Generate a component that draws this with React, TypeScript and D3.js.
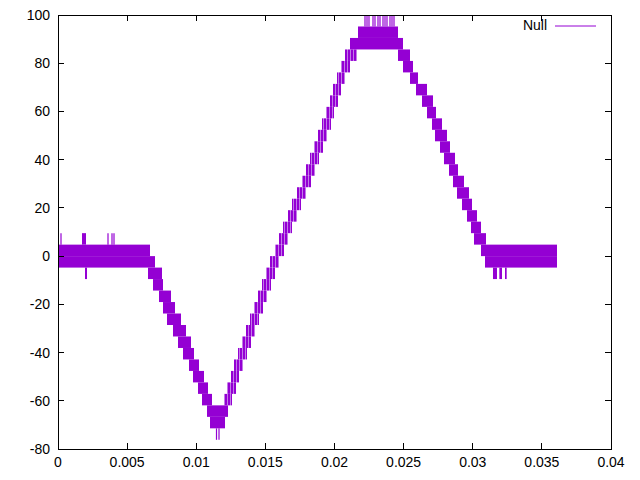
import React from "react";
import * as d3 from "d3";

const W = 640;
const H = 480;
const PLOT = { left: 58, right: 611, top: 15, bottom: 449 };

const xTicks = [0, 0.005, 0.01, 0.015, 0.02, 0.025, 0.03, 0.035, 0.04];
const xTickLabels = ["0", "0.005", "0.01", "0.015", "0.02", "0.025", "0.03", "0.035", "0.04"];
const yTicks = [-80, -60, -40, -20, 0, 20, 40, 60, 80, 100];
const yTickLabels = ["-80", "-60", "-40", "-20", "0", "20", "40", "60", "80", "100"];
const seriesName = "Null";

// Dense dithered signal, read as bands: [tStart, tEnd, low, high]
const flatStartBlocks = [
  [0, 0.006655, 0, 4.76],
  [0, 0.007016, -4.76, 0],
  [0.001736, 0.002025, 4.76, 9.52],
  [0.001953, 0.002098, -9.52, -4.76],
];
const fallBlocks = [
  [0.00651, 0.007523, -9.52, -4.76],
  [0.006872, 0.007595, -14.29, -9.52],
  [0.007306, 0.008174, -19.05, -14.29],
  [0.007595, 0.008463, -23.81, -19.05],
  [0.007884, 0.008897, -28.57, -23.81],
  [0.008318, 0.009259, -33.33, -28.57],
  [0.00868, 0.00962, -38.1, -33.33],
  [0.009042, 0.009837, -42.86, -38.1],
  [0.009476, 0.010199, -47.62, -42.86],
  [0.009765, 0.010561, -52.38, -47.62],
  [0.010127, 0.01085, -57.14, -52.38],
  [0.010416, 0.011139, -61.9, -57.14],
  [0.010778, 0.012297, -66.67, -61.9],
  [0.010995, 0.01208, -71.43, -66.67],
];
const riseBlocks = [
  [0.012007, 0.012586, -61.9, -57.14],
  [0.012224, 0.012876, -57.14, -52.38],
  [0.012514, 0.013092, -52.38, -47.62],
  [0.012731, 0.013382, -47.62, -42.86],
  [0.01302, 0.013671, -42.86, -38.1],
  [0.013309, 0.01396, -38.1, -33.33],
  [0.013599, 0.01425, -33.33, -28.57],
  [0.013888, 0.014539, -28.57, -23.81],
  [0.014177, 0.014828, -23.81, -19.05],
  [0.014467, 0.015118, -19.05, -14.29],
  [0.014756, 0.015407, -14.29, -9.52],
  [0.015045, 0.015696, -9.52, -4.76],
  [0.015335, 0.015986, -4.76, 0],
  [0.015696, 0.016347, 0, 4.76],
  [0.015986, 0.016637, 4.76, 9.52],
  [0.016275, 0.016926, 9.52, 14.29],
  [0.016637, 0.017288, 14.29, 19.05],
  [0.016926, 0.017577, 19.05, 23.81],
  [0.017288, 0.017939, 23.81, 28.57],
  [0.017649, 0.0183, 28.57, 33.33],
  [0.017939, 0.01859, 33.33, 38.1],
  [0.018228, 0.018879, 38.1, 42.86],
  [0.018517, 0.019168, 42.86, 47.62],
  [0.018807, 0.019458, 47.62, 52.38],
  [0.019096, 0.019747, 52.38, 57.14],
  [0.019385, 0.019964, 57.14, 61.9],
  [0.019675, 0.020253, 61.9, 66.67],
  [0.019892, 0.02047, 66.67, 71.43],
  [0.020181, 0.02076, 71.43, 76.19],
  [0.02047, 0.021121, 76.19, 80.95],
  [0.02076, 0.021627, 80.95, 85.71],
];
const peakBlocks = [
  [0.021121, 0.024955, 85.71, 90.48],
  [0.0217, 0.024593, 90.48, 95.24],
];
const fall2Blocks = [
  [0.024593, 0.025461, 80.95, 85.71],
  [0.024955, 0.025678, 76.19, 80.95],
  [0.025461, 0.02604, 71.43, 76.19],
  [0.025895, 0.026691, 66.67, 71.43],
  [0.026329, 0.027125, 61.9, 66.67],
  [0.026691, 0.027342, 57.14, 61.9],
  [0.027052, 0.027776, 52.38, 57.14],
  [0.027269, 0.028137, 47.62, 52.38],
  [0.027631, 0.028354, 42.86, 47.62],
  [0.02792, 0.028716, 38.1, 42.86],
  [0.028282, 0.028933, 33.33, 38.1],
  [0.028571, 0.029367, 28.57, 33.33],
  [0.028861, 0.029729, 23.81, 28.57],
  [0.029222, 0.029946, 19.05, 23.81],
  [0.029584, 0.030307, 14.29, 19.05],
  [0.029873, 0.030597, 9.52, 14.29],
  [0.03009, 0.030958, 4.76, 9.52],
];
const flatEndBlocks = [
  [0.030597, 0.036094, 0, 4.76],
  [0.030886, 0.036094, -4.76, 0],
  [0.031464, 0.031753, -9.52, -4.76],
  [0.031923, 0.032116, -9.52, -4.76],
  [0.032333, 0.032454, -9.52, -4.76],
];
// Thin single-sample spikes: [t, low, high]
const spikes = [
  [0.000217, 4.76, 9.52],
  [0.003617, 4.76, 9.52],
  [0.003906, 4.76, 9.52],
  [0.004051, 4.76, 9.52],
  [0.011465, -76.19, -71.43],
  [0.011646, -76.19, -71.43],
  [0.022206, 95.24, 100],
  [0.022351, 95.24, 100],
  [0.022495, 95.24, 100],
  [0.022785, 95.24, 100],
  [0.022929, 95.24, 100],
  [0.023146, 95.24, 100],
  [0.023291, 95.24, 100],
  [0.023508, 95.24, 100],
  [0.023653, 95.24, 100],
  [0.023797, 95.24, 100],
  [0.024014, 95.24, 100],
  [0.024159, 95.24, 100],
  [0.024304, 95.24, 100],
];

const COLOR = "#9400d3";
const FONT = "'Liberation Sans', Arial, sans-serif";

export default function App() {
  const x = d3.scaleLinear().domain([0, 0.04]).range([PLOT.left, PLOT.right]);
  const y = d3.scaleLinear().domain([-80, 100]).range([PLOT.bottom, PLOT.top]);
  const solidBlocks = [
    ...flatStartBlocks,
    ...fallBlocks,
    ...peakBlocks,
    ...fall2Blocks,
    ...flatEndBlocks,
  ];
  const tick = 6;
  return (
    <svg
      width={W}
      height={H}
      style={{ position: "fixed", left: 0, top: 0, background: "#fff" }}
      fontFamily={FONT}
    >
      <rect x={0} y={0} width={W} height={H} fill="#fff" />
      <defs>
        <clipPath id="plotclip">
          <rect x={PLOT.left} y={PLOT.top} width={PLOT.right - PLOT.left} height={PLOT.bottom - PLOT.top} />
        </clipPath>
        <pattern id="stripes" patternUnits="userSpaceOnUse" width={3} height={10}>
          <rect x={0} y={0} width={3} height={10} fill="#c27ae8" />
          <rect x={0} y={0} width={2} height={10} fill={COLOR} />
        </pattern>
      </defs>
      <g clipPath="url(#plotclip)">
        {riseBlocks.map((b, i) => (
          <rect
            key={"r" + i}
            x={x(b[0])}
            width={Math.max(1, x(b[1]) - x(b[0]))}
            y={y(b[3])}
            height={y(b[2]) - y(b[3])}
            fill="url(#stripes)"
          />
        ))}
        {solidBlocks.map((b, i) => (
          <rect
            key={"b" + i}
            x={x(b[0])}
            width={Math.max(1, x(b[1]) - x(b[0]))}
            y={y(b[3])}
            height={y(b[2]) - y(b[3])}
            fill={COLOR}
          />
        ))}
        {spikes.map((s, i) => (
          <line
            key={"s" + i}
            x1={x(s[0])}
            x2={x(s[0])}
            y1={y(s[1])}
            y2={y(s[2])}
            stroke={COLOR}
            strokeWidth={1.2}
          />
        ))}
      </g>
      <g stroke="#000" strokeWidth={1} shapeRendering="crispEdges">
        {xTicks.map((t, i) => (
          <g key={"xt" + i}>
            <line x1={x(t)} x2={x(t)} y1={PLOT.bottom} y2={PLOT.bottom - tick} />
            <line x1={x(t)} x2={x(t)} y1={PLOT.top} y2={PLOT.top + tick} />
          </g>
        ))}
        {yTicks.map((t, i) => (
          <g key={"yt" + i}>
            <line x1={PLOT.left} x2={PLOT.left + tick} y1={y(t)} y2={y(t)} />
            <line x1={PLOT.right} x2={PLOT.right - tick} y1={y(t)} y2={y(t)} />
          </g>
        ))}
        <rect
          x={PLOT.left}
          y={PLOT.top}
          width={PLOT.right - PLOT.left}
          height={PLOT.bottom - PLOT.top}
          fill="none"
        />
      </g>
      <g fontSize={14} fill="#000">
        {xTicks.map((t, i) => (
          <text key={"xl" + i} x={x(t)} y={PLOT.bottom + 18} textAnchor="middle">
            {xTickLabels[i]}
          </text>
        ))}
        {yTicks.map((t, i) => (
          <text key={"yl" + i} x={PLOT.left - 8} y={y(t) + 5} textAnchor="end">
            {yTickLabels[i]}
          </text>
        ))}
      </g>
      <g>
        <text x={547} y={30} fontSize={14} textAnchor="end" fill="#000">
          {seriesName}
        </text>
        <line x1={555} x2={596} y1={26} y2={26} stroke={COLOR} strokeWidth={1} />
      </g>
    </svg>
  );
}
